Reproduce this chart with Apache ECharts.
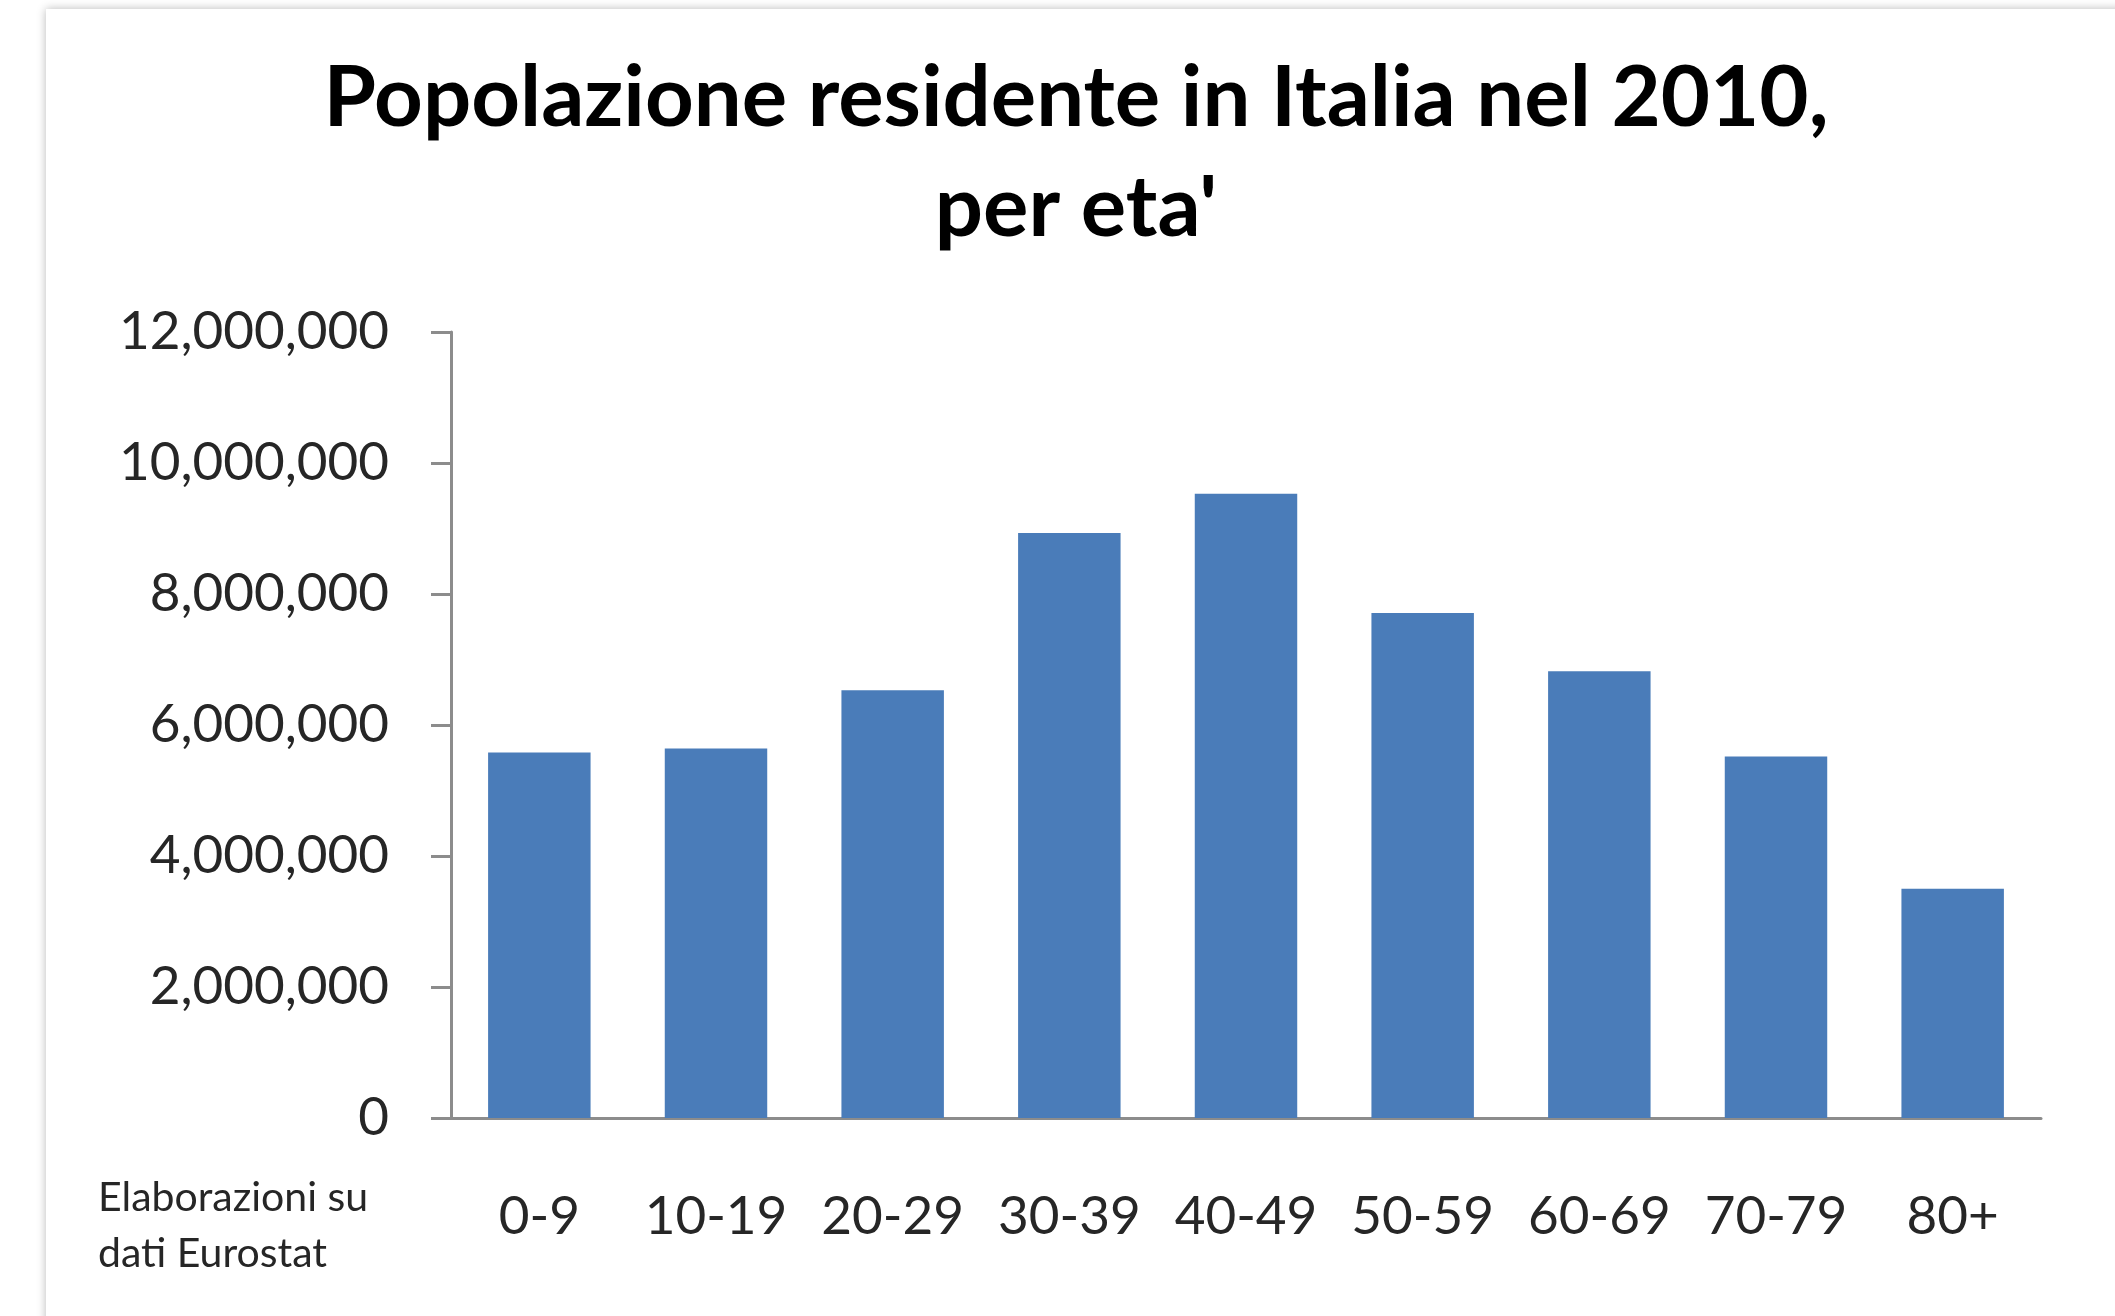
<!DOCTYPE html>
<html>
<head>
<meta charset="utf-8">
<script src="https://cdn.jsdelivr.net/npm/echarts@6/dist/echarts.min.js"></script>
<style>
  html, body { margin: 0; padding: 0; background: #ffffff; overflow: hidden; }
  #card { position: absolute; left: 46px; top: 9px; width: 2300px; height: 1500px; background: #fff;
          box-shadow: 0 0 9px rgba(0,0,0,0.28); }
  #chart { position: absolute; left: 0; top: 0; width: 2115px; height: 1316px; }
</style>
</head>
<body>
<div id="card"></div>
<div id="chart"></div>
<script>
const titleLines = ["Popolazione residente in Italia nel 2010,", "per eta'"];
const categories = ["0-9", "10-19", "20-29", "30-39", "40-49", "50-59", "60-69", "70-79", "80+"];
const population = [5580000, 5640000, 6530000, 8930000, 9530000, 7710000, 6820000, 5520000, 3500000];
const yTicks = [0, 2000000, 4000000, 6000000, 8000000, 10000000, 12000000];
const noteLines = ["Elaborazioni su", "dati Eurostat"];

const FONT = "Lato, 'Open Sans', sans-serif";
const chart = echarts.init(document.getElementById('chart'), null, { renderer: 'canvas' });

const option = {
  backgroundColor: 'transparent',
  animation: false,
  grid: { left: 451, right: 74, top: 332, bottom: 198, containLabel: false },
  xAxis: {
    type: 'category',
    data: categories,
    axisLine: { show: true, lineStyle: { color: '#8c8c8c', width: 3 } },
    axisTick: { show: false },
    axisLabel: { interval: 0, hideOverlap: false, color: '#262626', fontFamily: FONT, fontSize: 53, margin: 72, lineHeight: 53 }
  },
  yAxis: {
    type: 'value',
    min: yTicks[0],
    max: yTicks[yTicks.length - 1],
    interval: yTicks[1] - yTicks[0],
    axisLine: { show: true, lineStyle: { color: '#8c8c8c', width: 3 } },
    axisTick: { show: true, length: 20, inside: false, lineStyle: { color: '#8c8c8c', width: 3 } },
    splitLine: { show: false },
    axisLabel: {
      color: '#262626', fontFamily: FONT, fontSize: 53, margin: 62,
      formatter: v => v.toLocaleString('en-US')
    }
  },
  series: [{
    type: 'bar',
    data: population,
    barCategoryGap: '42%',
    itemStyle: { color: '#4a7cb9' }
  }],
  graphic: [
    { type: 'text', x: 1076, y: 99, style: { text: titleLines[0], fill: '#000', font: "bold 85px " + FONT, textAlign: 'center', textVerticalAlign: 'middle' } },
    { type: 'text', x: 1076, y: 209, style: { text: titleLines[1], fill: '#000', font: "bold 85px " + FONT, textAlign: 'center', textVerticalAlign: 'middle' } },
    { type: 'text', x: 98, y: 1198, style: { text: noteLines[0], fill: '#262626', font: "41px " + FONT, textAlign: 'left', textVerticalAlign: 'middle' } },
    { type: 'text', x: 98, y: 1254, style: { text: noteLines[1], fill: '#262626', font: "41px " + FONT, textAlign: 'left', textVerticalAlign: 'middle' } }
  ]
};
chart.setOption(option);
</script>
</body>
</html>
